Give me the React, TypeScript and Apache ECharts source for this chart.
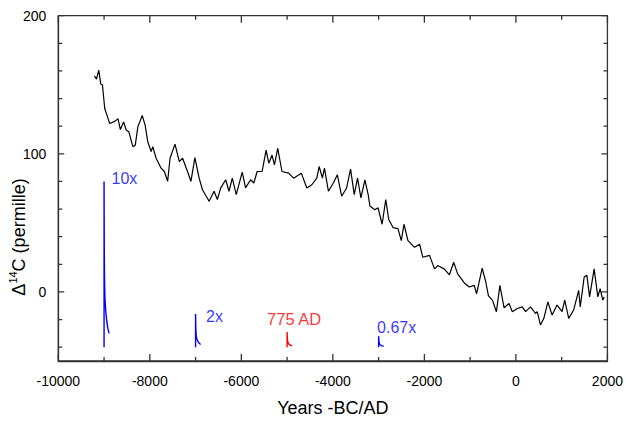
import React, { useEffect, useRef, useState } from "react";
import * as echarts from "echarts";

// Black record: years (BC negative / AD) and Δ14C (permille)
const years = [-9210,-9166,-9116,-9072,-9035,-8985,-8935,-8877,-8768,-8696,-8644,-8573,-8514,-8458,-8371,-8318,-8262,-8166,-8101,-8045,-7971,-7936,-7862,-7754,-7682,-7610,-7558,-7450,-7356,-7284,-7176,-7102,-7015,-6922,-6850,-6704,-6596,-6524,-6450,-6342,-6270,-6198,-6111,-5981,-5907,-5798,-5727,-5655,-5546,-5459,-5401,-5329,-5277,-5205,-5112,-4966,-4858,-4690,-4569,-4460,-4351,-4299,-4228,-4184,-4097,-3989,-3902,-3808,-3700,-3613,-3533,-3461,-3387,-3300,-3228,-3191,-3083,-3011,-2924,-2844,-2779,-2685,-2577,-2505,-2446,-2359,-2214,-2105,-2034,-1888,-1779,-1708,-1562,-1453,-1360,-1273,-1128,-1019,-910,-860,-737,-658,-600,-513,-426,-350,-258,-150,-78,30,138,211,319,428,465,537,611,698,791,899,1008,1067,1154,1262,1371,1406,1492,1551,1610,1710,1790,1840,1899,1927];
const delta14C = [156.5,154.1,160.6,150.5,149.8,132.6,127.8,121.9,123.5,125.4,117.6,123.1,117.1,115.9,105.2,106.3,119.5,127.8,120.6,108.7,101.6,105.2,96.8,89.6,87.2,80.1,96.8,107,94.4,96.8,87.2,80.1,97.3,82.4,74,65.7,72.9,66.9,75.3,81.2,72.9,82.4,70.5,86.7,75.3,81.2,78.9,87.2,87.2,102.7,93.2,99.1,92,103.9,87.2,86,82.4,86,75.3,77.6,82.4,90.8,82.4,89.6,72.9,78.9,84.8,69.3,75.3,88.9,70.5,82.4,68.1,81.2,70.5,62.2,59.5,60.9,49,66.9,52.5,46.6,45.9,37.1,49,37.1,32.3,34.6,25.1,26.5,16.7,19.1,16.5,12.4,21.5,13.1,6.5,3.6,4.8,-1.4,17.2,7.2,-2.9,-5.9,-14.3,4.8,-11.5,-8.4,-14.3,-12,-10.8,-14.3,-10.8,-15.6,-14.3,-23.9,-19.1,-7.2,-16.7,-9.5,-14.3,-5.9,-19.1,-13.1,1.2,-10.8,10.8,12,-3.6,16.7,-3.6,2.4,-5.9,-3.6];

// Scaled event responses
const spike10xYears = [-9000,-9000,-8995,-8988,-8980,-8965,-8945,-8920,-8890];
const spike10xValues = [-40,80,30,5,-5,-13,-20,-26,-30];
const spike2xYears = [-7000,-7000,-6995,-6988,-6980,-6965,-6945,-6920,-6890];
const spike2xValues = [-40,-16,-26,-31,-33,-34.6,-36,-37.2,-38];
const spike775Years = [-5000,-5000,-4995,-4988,-4980,-4965,-4945,-4920,-4890];
const spike775Values = [-40,-29,-33.6,-35.9,-36.8,-37.5,-38.2,-38.7,-39.1];
const spike067Years = [-3000,-3000,-2995,-2988,-2980,-2965,-2945,-2920,-2890];
const spike067Values = [-40,-32,-35.3,-37,-37.7,-38.2,-38.7,-39,-39.3];

const spikeLabels = ["10x", "2x", "775 AD", "0.67x"];

// Axis ranges and ticks
const xRange = [-10000, 2000];
const yRange = [-50, 200];
const xTickValues = [-10000,-9000,-8000,-7000,-6000,-5000,-4000,-3000,-2000,-1000,0,1000,2000];
const xTickMajor = [1,0,1,0,1,0,1,0,1,0,1,0,1];
const yTickValues = [-40,-20,0,20,40,60,80,100,120,140,160,180,200];
const yTickMajor = [0,0,1,0,0,0,0,1,0,0,0,0,1];
const yLabelValues = [0, 100, 200];

const FONT = 'Arial, "Liberation Sans", sans-serif';
const BLUE = "#0000ff";
const RED = "#ff0000";
const AXIS = "#333";

const zip = (xs: number[], ys: number[]) => xs.map((x, i) => [x, ys[i]]);

export default function App() {
  const ref = useRef<HTMLDivElement>(null);
  const [, setTick] = useState(0);
  useEffect(() => {
    document.body.style.margin = "0";
    if (!ref.current) return;
    const chart = echarts.init(ref.current, null, { renderer: "svg" });

    const G = { left: 58.3, right: 15.3, top: 15.7, bottom: 57.7 };
    const pxPerX = (626 - G.left - G.right) / (xRange[1] - xRange[0]);
    const pxPerY = (422 - G.top - G.bottom) / (yRange[1] - yRange[0]);
    const xLen = (major: number) => (major ? 7 : 4) / pxPerY;
    const yLen = (major: number) => (major ? 6 : 4) / pxPerX;

    const bottomAxis = xTickValues.flatMap((v, i) => [[v, yRange[0]], [v, yRange[0] + xLen(xTickMajor[i])], [v, yRange[0]]]);
    const topAxis = xTickValues.flatMap((v, i) => [[v, yRange[1]], [v, yRange[1] - xLen(xTickMajor[i])], [v, yRange[1]]]);
    const leftAxis = [[xRange[0], yRange[0]], ...yTickValues.flatMap((v, i) => [[xRange[0], v], [xRange[0] + yLen(yTickMajor[i]), v], [xRange[0], v]])];
    const rightAxis = [[xRange[1], yRange[0]], ...yTickValues.flatMap((v, i) => [[xRange[1], v], [xRange[1] - yLen(yTickMajor[i]), v], [xRange[1], v]])];

    const axisSeries = (name: string, data: number[][]) => ({
      name,
      type: "line",
      data,
      showSymbol: false,
      symbol: "none",
      clip: false,
      silent: true,
      z: 3,
      lineStyle: { color: AXIS, width: 1.3 },
    });

    const spikeSeries = (name: string, xs: number[], ys: number[], color: string) => ({
      name,
      type: "line",
      data: zip(xs, ys),
      showSymbol: false,
      symbol: "none",
      lineStyle: { color, width: 1.4 },
      silent: true,
    });

    const lineStyle = () => ({ color: AXIS, width: 1.3 });

    chart.setOption({
      animation: false,
      backgroundColor: "#fff",
      grid: G,
      xAxis: {
        type: "value",
        position: "bottom",
        min: xRange[0],
        max: xRange[1],
        interval: 2000,
        axisLine: { show: true, onZero: false, lineStyle: lineStyle() },
        axisTick: { show: false },
        splitLine: { show: false },
        axisLabel: { show: true, fontSize: 14, color: "#000", fontFamily: FONT, margin: 13, formatter: (v: number) => String(v) },
        name: "Years -BC/AD",
        nameLocation: "middle",
        nameGap: 38,
        nameTextStyle: { fontSize: 18, color: "#000", fontFamily: FONT },
      },
      yAxis: {
        type: "value",
        position: "left",
        min: yRange[0],
        max: yRange[1],
        interval: 50,
        axisLine: { show: true, onZero: false, lineStyle: lineStyle() },
        axisTick: { show: false },
        splitLine: { show: false },
        axisLabel: {
          show: true,
          fontSize: 14,
          color: "#000",
          fontFamily: FONT,
          margin: 12,
          formatter: (v: number) => (yLabelValues.includes(v) ? String(v) : ""),
        },
      },
      graphic: [
        {
          type: "text",
          x: 18.5,
          y: 237,
          rotation: Math.PI / 2,
          style: {
            text: "{a|Δ}{s|14}{a|C (permille)}",
            align: "center",
            verticalAlign: "middle",
            fill: "#000",
            rich: {
              a: { fontSize: 18, fontFamily: FONT, lineHeight: 22, fill: "#000" },
              s: { fontSize: 11, fontFamily: FONT, verticalAlign: "top", lineHeight: 14, fill: "#000" },
            },
          },
        },
      ],
      series: [
        axisSeries("axisBottom", bottomAxis),
        axisSeries("axisTop", topAxis),
        axisSeries("axisLeft", leftAxis),
        axisSeries("axisRight", rightAxis),
        {
          name: "record",
          type: "line",
          data: zip(years, delta14C),
          showSymbol: false,
          symbol: "none",
          lineStyle: { color: "#000", width: 1.2 },
          silent: true,
        },
        spikeSeries("10x", spike10xYears, spike10xValues, BLUE),
        spikeSeries("2x", spike2xYears, spike2xValues, BLUE),
        spikeSeries("775 AD", spike775Years, spike775Values, RED),
        spikeSeries("0.67x", spike067Years, spike067Values, BLUE),
        {
          name: "labels",
          type: "scatter",
          symbolSize: 1,
          itemStyle: { color: "rgba(0,0,0,0)" },
          silent: true,
          data: [
            {
              value: [spike10xYears[1], spike10xValues[1]],
              label: { show: true, formatter: spikeLabels[0], position: "right", distance: 7, offset: [0, -3], color: BLUE, fontSize: 16, fontFamily: FONT },
            },
            {
              value: [spike2xYears[1], spike2xValues[1]],
              label: { show: true, formatter: spikeLabels[1], position: "right", distance: 10, offset: [0, 2], color: BLUE, fontSize: 16, fontFamily: FONT },
            },
            {
              value: [spike775Years[1], spike775Values[1]],
              label: { show: true, formatter: spikeLabels[2], position: "top", distance: 4, offset: [7, 0], color: RED, fontSize: 16.5, fontFamily: FONT },
            },
            {
              value: [spike067Years[1], spike067Values[1]],
              label: { show: true, formatter: spikeLabels[3], position: "top", distance: 0, offset: [18, 0], color: BLUE, fontSize: 16, fontFamily: FONT },
            },
          ],
        },
      ],
    });
    const t = setTimeout(() => {
      chart.resize();
      setTick((n) => n + 1);
    }, 100);
    return () => {
      clearTimeout(t);
      chart.dispose();
    };
  }, []);
  return <div ref={ref} style={{ width: 626, height: 422, background: "#fff" }} />;
}
